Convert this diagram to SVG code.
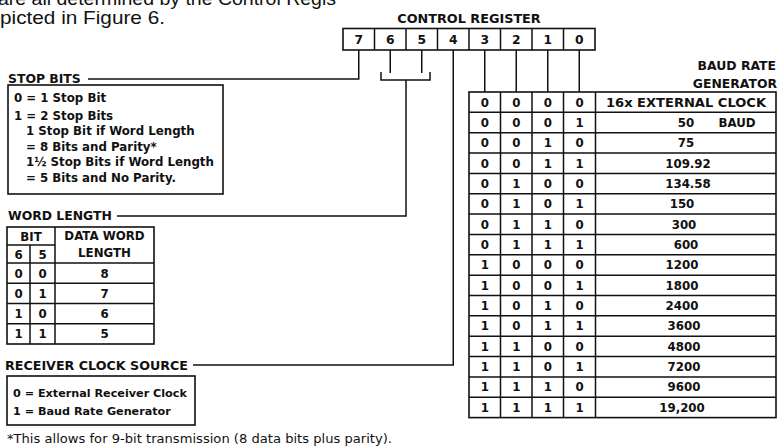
<svg xmlns="http://www.w3.org/2000/svg" width="779" height="448" viewBox="0 0 779 448">
<style>
text{font-family:"DejaVu Sans","Liberation Sans",sans-serif;fill:#111}
.b{font-weight:bold;font-size:11.8px}
.s{font-size:11.2px}
.c{text-anchor:middle}
.lab{font-weight:bold;font-size:12.4px}
.intro{font-family:"Liberation Sans",Arial,sans-serif;font-size:18.5px}
.foot{font-size:11.5px}
.ln{fill:none;stroke:#111;stroke-width:1.5}
.box{fill:none;stroke:#111;stroke-width:1.6}
</style>
<rect width="779" height="448" fill="#fff"/>

<g id="intro">
<text class="intro" x="-2" y="5" textLength="338" lengthAdjust="spacingAndGlyphs">are all determined by the Control Regis</text>
<text class="intro" x="0" y="24" textLength="165" lengthAdjust="spacingAndGlyphs">picted in Figure 6.</text>
</g>

<g id="control-register">
<text class="b c" x="469" y="23" style="font-size:12.8px">CONTROL REGISTER</text>
<rect class="box" x="343" y="28.5" width="252" height="21.5"/>
<path class="ln" d="M374.5 28.5V50M406 28.5V50M437.5 28.5V50M469 28.5V50M500.5 28.5V50M532 28.5V50M563.5 28.5V50"/>
<g class="b c" style="font-size:12.3px">
<text x="358.75" y="44">7</text><text x="390.25" y="44">6</text><text x="421.75" y="44">5</text><text x="453.25" y="44">4</text>
<text x="484.75" y="44">3</text><text x="516.25" y="44">2</text><text x="547.75" y="44">1</text><text x="579.25" y="44">0</text>
</g>
</g>

<g id="connectors">
<path class="ln" d="M88 79H358.75V50"/>
<path class="ln" d="M390.25 50V73M421.75 50V73M381 72V80H430V72M406 80V216H117"/>
<path class="ln" d="M453.25 50V365H193"/>
<path class="ln" d="M484.75 50V92M516.25 50V92M547.75 50V92M579.25 50V92"/>
</g>

<g id="stop-bits">
<text class="lab" x="8" y="83">STOP BITS</text>
<rect class="box" x="8" y="85" width="215" height="109"/>
<text class="b" x="14" y="101.5">0 = 1 Stop Bit</text>
<text class="b" x="14" y="119.5">1 = 2 Stop Bits</text>
<text class="b" x="26" y="135">1 Stop Bit if Word Length</text>
<text class="b" x="26" y="150.5">= 8 Bits and Parity*</text>
<text class="b" x="26" y="166">1½ Stop Bits if Word Length</text>
<text class="b" x="26" y="181.5">= 5 Bits and No Parity.</text>
</g>

<g id="word-length">
<text class="lab" x="8" y="220">WORD LENGTH</text>
<rect class="box" x="7" y="227" width="147" height="117"/>
<path class="ln" d="M7 245H55M7 263H154M7 283.25H154M7 303.5H154M7 323.75H154M30 245V344M55 227V344"/>
<text class="b c" x="31" y="241">BIT</text>
<text class="b c" x="18.5" y="259">6</text><text class="b c" x="42.5" y="259">5</text>
<text class="b c" x="104.5" y="240">DATA WORD</text>
<text class="b c" x="104.5" y="257">LENGTH</text>
<text class="b c" x="18.5" y="277.5">0</text><text class="b c" x="42.5" y="277.5">0</text><text class="b c" x="104.5" y="277.5">8</text>
<text class="b c" x="18.5" y="297.75">0</text><text class="b c" x="42.5" y="297.75">1</text><text class="b c" x="104.5" y="297.75">7</text>
<text class="b c" x="18.5" y="318">1</text><text class="b c" x="42.5" y="318">0</text><text class="b c" x="104.5" y="318">6</text>
<text class="b c" x="18.5" y="338.25">1</text><text class="b c" x="42.5" y="338.25">1</text><text class="b c" x="104.5" y="338.25">5</text>
</g>

<g id="receiver-clock-source">
<text class="lab" x="5" y="370" textLength="183" lengthAdjust="spacingAndGlyphs">RECEIVER CLOCK SOURCE</text>
<rect class="box" x="7" y="376" width="188" height="49"/>
<text class="b s" x="13" y="397">0 = External Receiver Clock</text>
<text class="b s" x="13" y="415">1 = Baud Rate Generator</text>
</g>

<g id="baud-rate-generator">
<text class="lab" x="776" y="70" text-anchor="end">BAUD RATE</text>
<text class="lab" x="777" y="88" text-anchor="end">GENERATOR</text>
<rect class="box" x="469" y="92" width="307" height="325.6"/>
<path class="ln" d="M500.5 92V417.6M532 92V417.6M563.5 92V417.6M595.5 92V417.6"/>
<path class="ln" d="M469 112.35H776M469 132.7H776M469 153.05H776M469 173.4H776M469 193.75H776M469 214.1H776M469 234.45H776M469 254.8H776M469 275.15H776M469 295.5H776M469 315.85H776M469 336.2H776M469 356.55H776M469 376.9H776M469 397.25H776"/>
<g class="b c">
<text x="484.75" y="106.5">0</text><text x="516.25" y="106.5">0</text><text x="547.75" y="106.5">0</text><text x="579.5" y="106.5">0</text>
<text x="686" y="106.5" textLength="160" lengthAdjust="spacingAndGlyphs">16x EXTERNAL CLOCK</text>
<text x="484.75" y="126.85">0</text><text x="516.25" y="126.85">0</text><text x="547.75" y="126.85">0</text><text x="579.5" y="126.85">1</text>
<text x="686" y="126.85">50</text><text x="737" y="126.85">BAUD</text>
<text x="484.75" y="147.2">0</text><text x="516.25" y="147.2">0</text><text x="547.75" y="147.2">1</text><text x="579.5" y="147.2">0</text>
<text x="686" y="147.2">75</text>
<text x="484.75" y="167.55">0</text><text x="516.25" y="167.55">0</text><text x="547.75" y="167.55">1</text><text x="579.5" y="167.55">1</text>
<text x="688" y="167.55">109.92</text>
<text x="484.75" y="187.9">0</text><text x="516.25" y="187.9">1</text><text x="547.75" y="187.9">0</text><text x="579.5" y="187.9">0</text>
<text x="688" y="187.9">134.58</text>
<text x="484.75" y="208.25">0</text><text x="516.25" y="208.25">1</text><text x="547.75" y="208.25">0</text><text x="579.5" y="208.25">1</text>
<text x="682" y="208.25">150</text>
<text x="484.75" y="228.6">0</text><text x="516.25" y="228.6">1</text><text x="547.75" y="228.6">1</text><text x="579.5" y="228.6">0</text>
<text x="684" y="228.6">300</text>
<text x="484.75" y="248.95">0</text><text x="516.25" y="248.95">1</text><text x="547.75" y="248.95">1</text><text x="579.5" y="248.95">1</text>
<text x="686" y="248.95">600</text>
<text x="484.75" y="269.3">1</text><text x="516.25" y="269.3">0</text><text x="547.75" y="269.3">0</text><text x="579.5" y="269.3">0</text>
<text x="682" y="269.3">1200</text>
<text x="484.75" y="289.65">1</text><text x="516.25" y="289.65">0</text><text x="547.75" y="289.65">0</text><text x="579.5" y="289.65">1</text>
<text x="682" y="289.65">1800</text>
<text x="484.75" y="310">1</text><text x="516.25" y="310">0</text><text x="547.75" y="310">1</text><text x="579.5" y="310">0</text>
<text x="682" y="310">2400</text>
<text x="484.75" y="330.35">1</text><text x="516.25" y="330.35">0</text><text x="547.75" y="330.35">1</text><text x="579.5" y="330.35">1</text>
<text x="684" y="330.35">3600</text>
<text x="484.75" y="350.7">1</text><text x="516.25" y="350.7">1</text><text x="547.75" y="350.7">0</text><text x="579.5" y="350.7">0</text>
<text x="684" y="350.7">4800</text>
<text x="484.75" y="371.05">1</text><text x="516.25" y="371.05">1</text><text x="547.75" y="371.05">0</text><text x="579.5" y="371.05">1</text>
<text x="684" y="371.05">7200</text>
<text x="484.75" y="391.4">1</text><text x="516.25" y="391.4">1</text><text x="547.75" y="391.4">1</text><text x="579.5" y="391.4">0</text>
<text x="684" y="391.4">9600</text>
<text x="484.75" y="411.75">1</text><text x="516.25" y="411.75">1</text><text x="547.75" y="411.75">1</text><text x="579.5" y="411.75">1</text>
<text x="682" y="411.75">19,200</text>
</g>
</g>

<g id="footnote">
<text class="foot" x="7" y="443" textLength="385" lengthAdjust="spacingAndGlyphs">*This allows for 9-bit transmission (8 data bits plus parity).</text>
</g>
</svg>
